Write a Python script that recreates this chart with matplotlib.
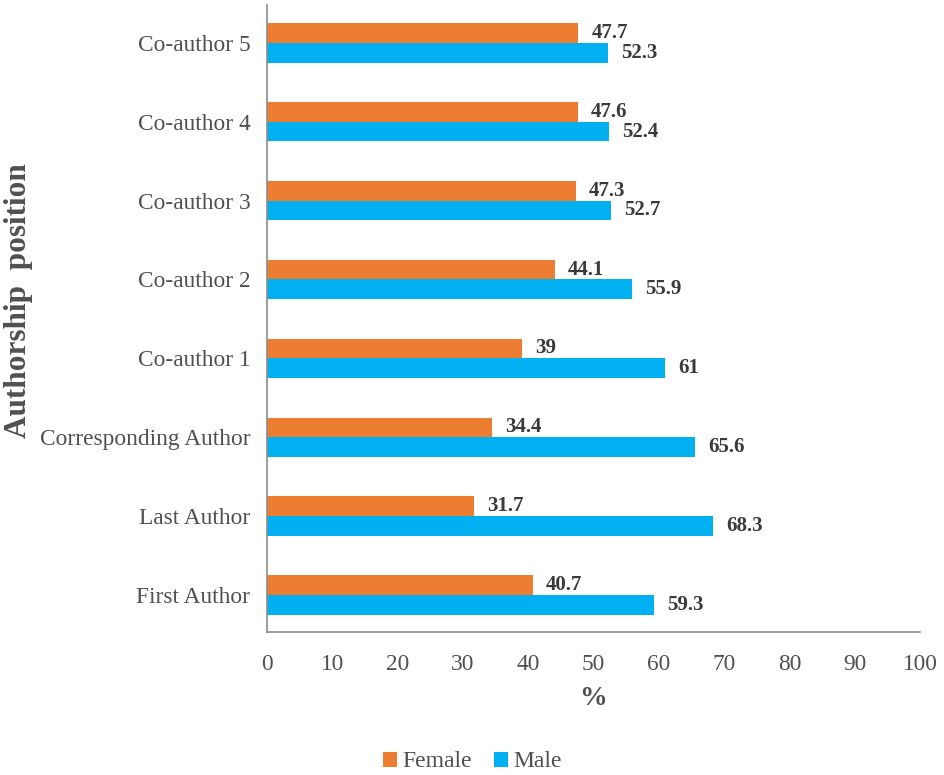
import matplotlib.pyplot as plt
import numpy as np

plt.rcParams["font.family"] = ["Liberation Serif", "DejaVu Serif"]

# Data
positions = ["First Author", "Last Author", "Corresponding Author", "Co-author 1",
             "Co-author 2", "Co-author 3", "Co-author 4", "Co-author 5"]
female = [40.7, 31.7, 34.4, 39, 44.1, 47.3, 47.6, 47.7]
male = [59.3, 68.3, 65.6, 61, 55.9, 52.7, 52.4, 52.3]

grey = "#505050"
fig = plt.figure(figsize=(9.45, 7.75), dpi=100)
ax = fig.add_axes([0.2825, 0.1845, 0.691, 0.809])

y = np.arange(len(positions))
h = 0.25
bf = ax.barh(y + h / 2, female, height=h, color="#ED7D31", label="Female")
bm = ax.barh(y - h / 2, male, height=h, color="#00B0F0", label="Male")

for bars in (bf, bm):
    for b in bars:
        w = b.get_width()
        ax.text(w + 2.0, b.get_y() + b.get_height() / 2, f"{w:g}",
                va="center", ha="left", fontsize=15, fontweight="bold",
                color="#3a3a3a")

ax.set_xlim(0, 100)
ax.set_ylim(-0.47, 7.48)
ax.set_xticks(range(0, 101, 10))
ax.set_yticks(y)
ax.set_yticklabels(positions)
ax.tick_params(axis="both", length=0, labelsize=16.8, labelcolor=grey)
ax.tick_params(axis="y", pad=12)
ax.tick_params(axis="x", pad=16)

for s in ("top", "right"):
    ax.spines[s].set_visible(False)
for s in ("left", "bottom"):
    ax.spines[s].set_color("#8c8c8c")
    ax.spines[s].set_linewidth(1.2)

ax.set_xlabel("%", fontsize=20, fontweight="bold", color=grey, labelpad=8)
ax.set_ylabel("Authorship  position", fontsize=22.5, fontweight="bold", color=grey)
ax.yaxis.set_label_coords(-0.358, 0.528)

fig.legend(handles=[bf, bm], loc="lower center", bbox_to_anchor=(0.5, -0.018),
           ncol=2, frameon=False, borderpad=0.2,
           prop={"family": "Liberation Serif", "size": 17}, labelcolor=grey,
           handlelength=0.6, handleheight=0.6, handletextpad=0.25,
           columnspacing=0.9)

fig.savefig("out.png", dpi=100)
